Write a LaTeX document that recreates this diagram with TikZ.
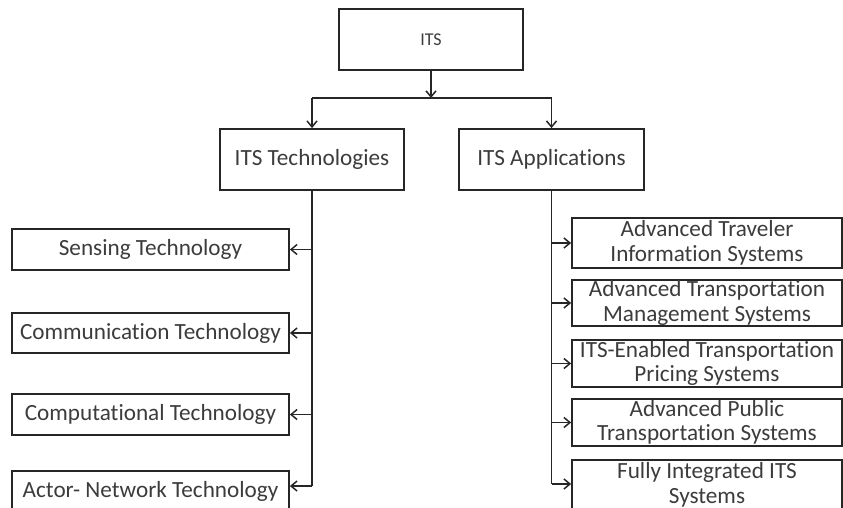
\documentclass[tikz,border=0pt]{standalone}
\usepackage{fontspec}
\setmainfont[Ligatures=NoCommon]{Carlito}
\usetikzlibrary{arrows.meta}
\definecolor{txt}{HTML}{3C3C3C}
\begin{document}
\begin{tikzpicture}[x=1pt,y=-1pt,
  box/.style={draw=black!85, line width=1.8pt, inner sep=0pt, text=txt, align=center,
              font=\fontsize{23.2}{24.5}\selectfont},
  line/.style={line width=1.7pt, draw=black!85},
  conn/.style={line width=1.7pt, draw=black!85, -{Straight Barb[length=6pt,width=10pt,line width=1.5pt]}}
]
\useasboundingbox (0,0) rectangle (843,508);
\clip (0,0) rectangle (843,508);
% top
\node[box, minimum width=184pt, minimum height=61pt, font=\fontsize{18}{20}\selectfont] (its) at (431,39.5) {ITS};
\node[box, minimum width=184pt, minimum height=61pt] (tech) at (312,159.5) {ITS Technologies};
\node[box, minimum width=185pt, minimum height=61pt] (apps) at (551.5,159.5) {ITS Applications};
% left boxes
\node[box, minimum width=277pt, minimum height=41pt] (sens) at (150.5,249.5) {Sensing Technology};
\node[box, minimum width=277pt, minimum height=40pt] (comm) at (150.5,333) {Communication Technology};
\node[box, minimum width=277pt, minimum height=41pt] (comp) at (150.5,414.5) {Computational Technology};
\node[box, minimum width=277pt, minimum height=41pt] (actor) at (150.5,491.5) {Actor- Network Technology};
% right boxes
\node[box, minimum width=270pt, minimum height=50pt] (r1) at (707,243) {Advanced Traveler\\Information Systems};
\node[box, minimum width=270pt, minimum height=46pt] (r2) at (707,303) {Advanced Transportation\\Management Systems};
\node[box, minimum width=270pt, minimum height=47pt] (r3) at (707,363.5) {ITS-Enabled Transportation\\Pricing Systems};
\node[box, minimum width=270pt, minimum height=47pt] (r4) at (707,422.5) {Advanced Public\\Transportation Systems};
\node[box, minimum width=270pt, minimum height=50pt] (r5) at (707,485) {Fully Integrated ITS\\Systems};
% connectors top
\coordinate (hub) at (431,98);
\draw[conn] (its.south) -- (hub);
\draw[line] (tech.north |- hub) -- (apps.north |- hub);
\draw[conn] (tech.north |- hub) -- (tech.north);
\draw[conn] (apps.north |- hub) -- (apps.north);
% left spine
\coordinate (a4) at (312,486);
\draw[line] (tech.south) -- (a4);
\draw[conn] (tech.south |- sens.east) -- (sens.east);
\draw[conn] (tech.south |- comm.east) -- (comm.east);
\draw[conn] (tech.south |- comp.east) -- (comp.east);
\draw[conn] (a4) -- (actor.east |- a4);
% right spine
\coordinate (b5) at (551.5,484);
\draw[line] (apps.south) -- (b5);
\draw[conn] (apps.south |- r1.west) -- (r1.west);
\draw[conn] (apps.south |- r2.west) -- (r2.west);
\draw[conn] (apps.south |- r3.west) -- (r3.west);
\draw[conn] (apps.south |- r4.west) -- (r4.west);
\draw[conn] (b5) -- (r5.west |- b5);
\end{tikzpicture}
\end{document}
